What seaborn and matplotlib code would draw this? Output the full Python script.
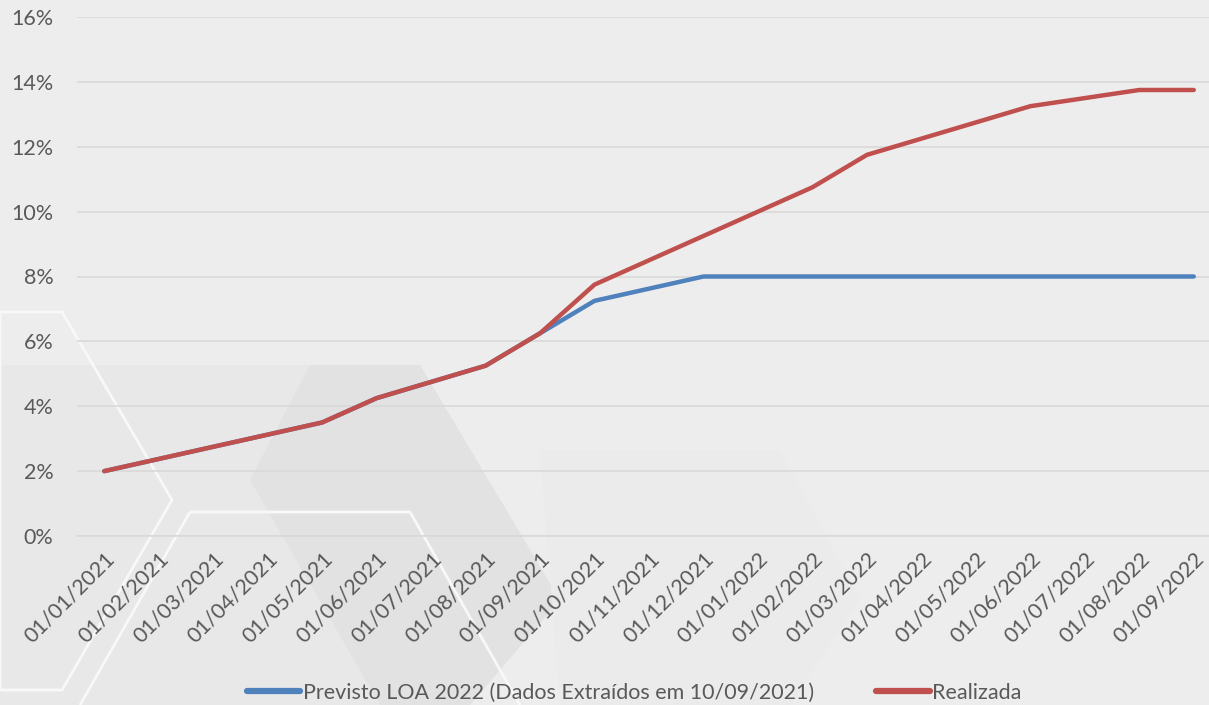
import pandas as pd
import numpy as np
import matplotlib.pyplot as plt
import seaborn as sns
from matplotlib.patches import Polygon
from matplotlib.ticker import PercentFormatter

# =============================================================
# DADOS
# =============================================================

meses = ["01/01/2021", "01/02/2021", "01/03/2021", "01/04/2021", "01/05/2021",
         "01/06/2021", "01/07/2021", "01/08/2021", "01/09/2021", "01/10/2021",
         "01/11/2021", "01/12/2021", "01/01/2022", "01/02/2022", "01/03/2022",
         "01/04/2022", "01/05/2022", "01/06/2022", "01/07/2022", "01/08/2022",
         "01/09/2022"]

previsto_datas = ["01/01/2021", "01/05/2021", "01/06/2021", "01/08/2021",
                  "01/09/2021", "01/10/2021", "01/12/2021", "01/09/2022"]
previsto_vals = [2.0, 3.5, 4.25, 5.25, 6.25, 7.25, 8.0, 8.0]

realizada_datas = ["01/01/2021", "01/05/2021", "01/06/2021", "01/08/2021",
                   "01/09/2021", "01/10/2021", "01/12/2021", "01/02/2022",
                   "01/03/2022", "01/05/2022", "01/06/2022", "01/08/2022",
                   "01/09/2022"]
realizada_vals = [2.0, 3.5, 4.25, 5.25, 6.25, 7.75, 9.25, 10.75,
                  11.75, 12.75, 13.25, 13.75, 13.75]

serie_prev = "Previsto LOA 2022 (Dados Extraídos em 10/09/2021)"
serie_real = "Realizada"

df = pd.concat([
    pd.DataFrame({"Mes": previsto_datas, "Taxa": previsto_vals, "Serie": serie_prev}),
    pd.DataFrame({"Mes": realizada_datas, "Taxa": realizada_vals, "Serie": serie_real}),
])
df["pos"] = df["Mes"].map({m: i for i, m in enumerate(meses)})

# =============================================================
# GRAFICO
# =============================================================

sns.set_style("white")
plt.rcParams["font.family"] = ["Lato", "DejaVu Sans"]

cinza_txt = "#595959"
fundo = "#EDEDED"
fs = 15.5

fig = plt.figure(figsize=(12.09, 7.05), dpi=100, facecolor=fundo)

# decoracao de fundo (hexagonos bem suaves)
W, H = 1209, 705
def px(pts):
    return [(x / W, 1 - y / H) for x, y in pts]

for pts, fc, ec in [
    ([(0, 365), (400, 365), (520, 560), (400, 705), (0, 705)], "#E8E8E8", "none"),
    ([(310, 365), (420, 365), (560, 600), (470, 705), (380, 705), (250, 480)], "#E2E2E2", "none"),
    ([(540, 450), (780, 450), (860, 600), (790, 705), (560, 705)], "#EBEBEB", "none"),
    ([(0, 312), (62, 312), (172, 500), (62, 690), (0, 690)], "none", "#F8F8F8"),
    ([(190, 512), (410, 512), (520, 705)], "none", "#F8F8F8"),
    ([(190, 512), (80, 705)], "none", "#F8F8F8"),
]:
    fig.patches.append(Polygon(px(pts), closed=len(pts) > 3, facecolor=fc,
                               edgecolor=ec, lw=2, transform=fig.transFigure,
                               zorder=-5))

ax = fig.add_axes([77 / W, 1 - 536 / H, (1221 - 77) / W, (536 - 17) / H])
ax.set_facecolor("none")
ax.set_zorder(5)

sns.lineplot(data=df, x="pos", y="Taxa", hue="Serie",
             hue_order=[serie_prev, serie_real],
             palette={serie_prev: "#4F81BD", serie_real: "#C0504D"},
             linewidth=3.2, ax=ax, legend=False)
for ln in ax.lines:
    ln.set_solid_capstyle("round")
    ln.set_solid_joinstyle("round")

ax.set_xlim(-0.5, len(meses) - 0.5)
ax.set_ylim(0, 16)
ax.set_yticks(np.arange(0, 17, 2))
ax.yaxis.set_major_formatter(PercentFormatter(decimals=0))
ax.grid(axis="y", color="#D9D9D9", lw=1.2)
ax.set_axisbelow(True)

ax.set_xticks(np.arange(len(meses)))
ax.set_xticklabels(meses, rotation=45, ha="right", rotation_mode="anchor")
ax.set_xticks(np.arange(-0.5, len(meses)), minor=True)
ax.tick_params(axis="x", which="major", length=0, pad=9, labelsize=fs,
               labelcolor=cinza_txt)
ax.tick_params(axis="x", which="minor", length=6, color="#D9D9D9", width=1.2)
ax.tick_params(axis="y", length=0, pad=17, labelsize=fs, labelcolor=cinza_txt)

for lado in ["top", "right", "left"]:
    ax.spines[lado].set_visible(False)
ax.spines["bottom"].set_color("#D9D9D9")
ax.spines["bottom"].set_linewidth(1.2)
ax.set_xlabel("")
ax.set_ylabel("")

h = [plt.Line2D([], [], color="#4F81BD", lw=4.5),
     plt.Line2D([], [], color="#C0504D", lw=4.5)]
fig.legend(h, [serie_prev, serie_real], loc="center", ncol=2,
           bbox_to_anchor=(634 / W, 1 - 693 / H), frameon=False,
           fontsize=fs, labelcolor=cinza_txt, handlelength=2.5,
           handletextpad=0.1, columnspacing=2.9)

fig.savefig("out.png", dpi=100, facecolor=fundo)
